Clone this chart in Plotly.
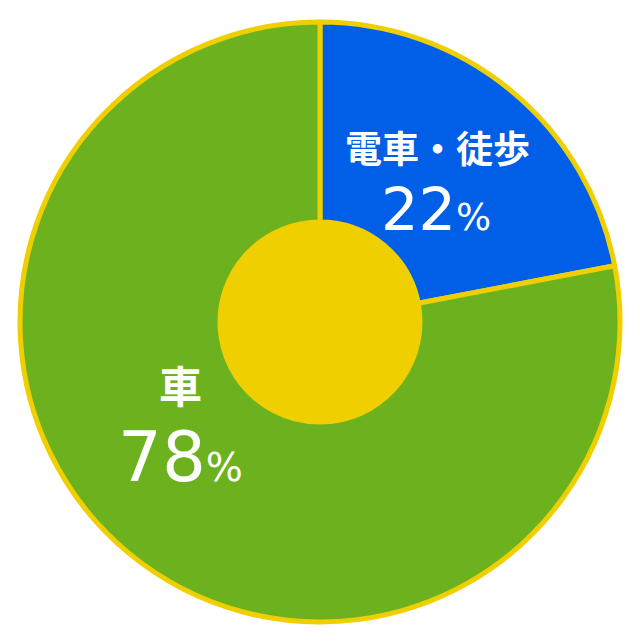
import plotly.graph_objects as go

labels = ["電車・徒歩", "車"]
values = [22, 78]
colors = ["#005fe6", "#6cb21e"]
border_color = "#f0cf00"

W, H = 640, 642
OFF = 8  # page body margin offset
cx, cy, R, r_in = 320 - OFF, 322 - OFF, 300, 100

fig = go.Figure()
fig.add_trace(go.Pie(
    labels=labels,
    values=values,
    sort=False,
    direction="clockwise",
    rotation=0,
    hole=r_in / R,
    domain=dict(x=[(cx - R) / W, (cx + R) / W], y=[1 - (cy + R) / H, 1 - (cy - R) / H]),
    marker=dict(colors=colors, line=dict(color=border_color, width=5)),
    textinfo="none",
    hoverinfo="label+percent",
    showlegend=False,
))

# center filled circle
fig.add_shape(type="circle", xref="paper", yref="paper",
              x0=(cx - r_in) / W, x1=(cx + r_in) / W,
              y0=1 - (cy + r_in) / H, y1=1 - (cy - r_in) / H,
              fillcolor=border_color, line=dict(width=0), layer="above")

label_pos = {"電車・徒歩": ((437, 147), (436, 209), 37, 59, 37),
             "車": ((180, 384), (180, 457), 43, 69, 39)}
for lab, val in zip(labels, values):
    (lx, ly), (vx, vy), fl, fv, fp = label_pos[lab]
    fig.add_annotation(x=(lx - OFF) / W, y=1 - (ly - OFF) / H, xref="paper", yref="paper",
                       xanchor="center", yanchor="middle",
                       text=f"<b>{lab}</b>", showarrow=False,
                       font=dict(family="Noto Sans CJK JP", size=fl, color="white"))
    fig.add_annotation(x=(vx - OFF) / W, y=1 - (vy - OFF) / H, xref="paper", yref="paper",
                       xanchor="center", yanchor="middle",
                       text=f"{val}<span style='font-size:{fp}px'>%</span>", showarrow=False,
                       font=dict(family="DejaVu Sans", size=fv, color="white"))

fig.update_layout(
    width=W, height=H,
    margin=dict(l=0, r=0, t=0, b=0),
    paper_bgcolor="white", plot_bgcolor="white",
)
fig.write_html("out.html")
